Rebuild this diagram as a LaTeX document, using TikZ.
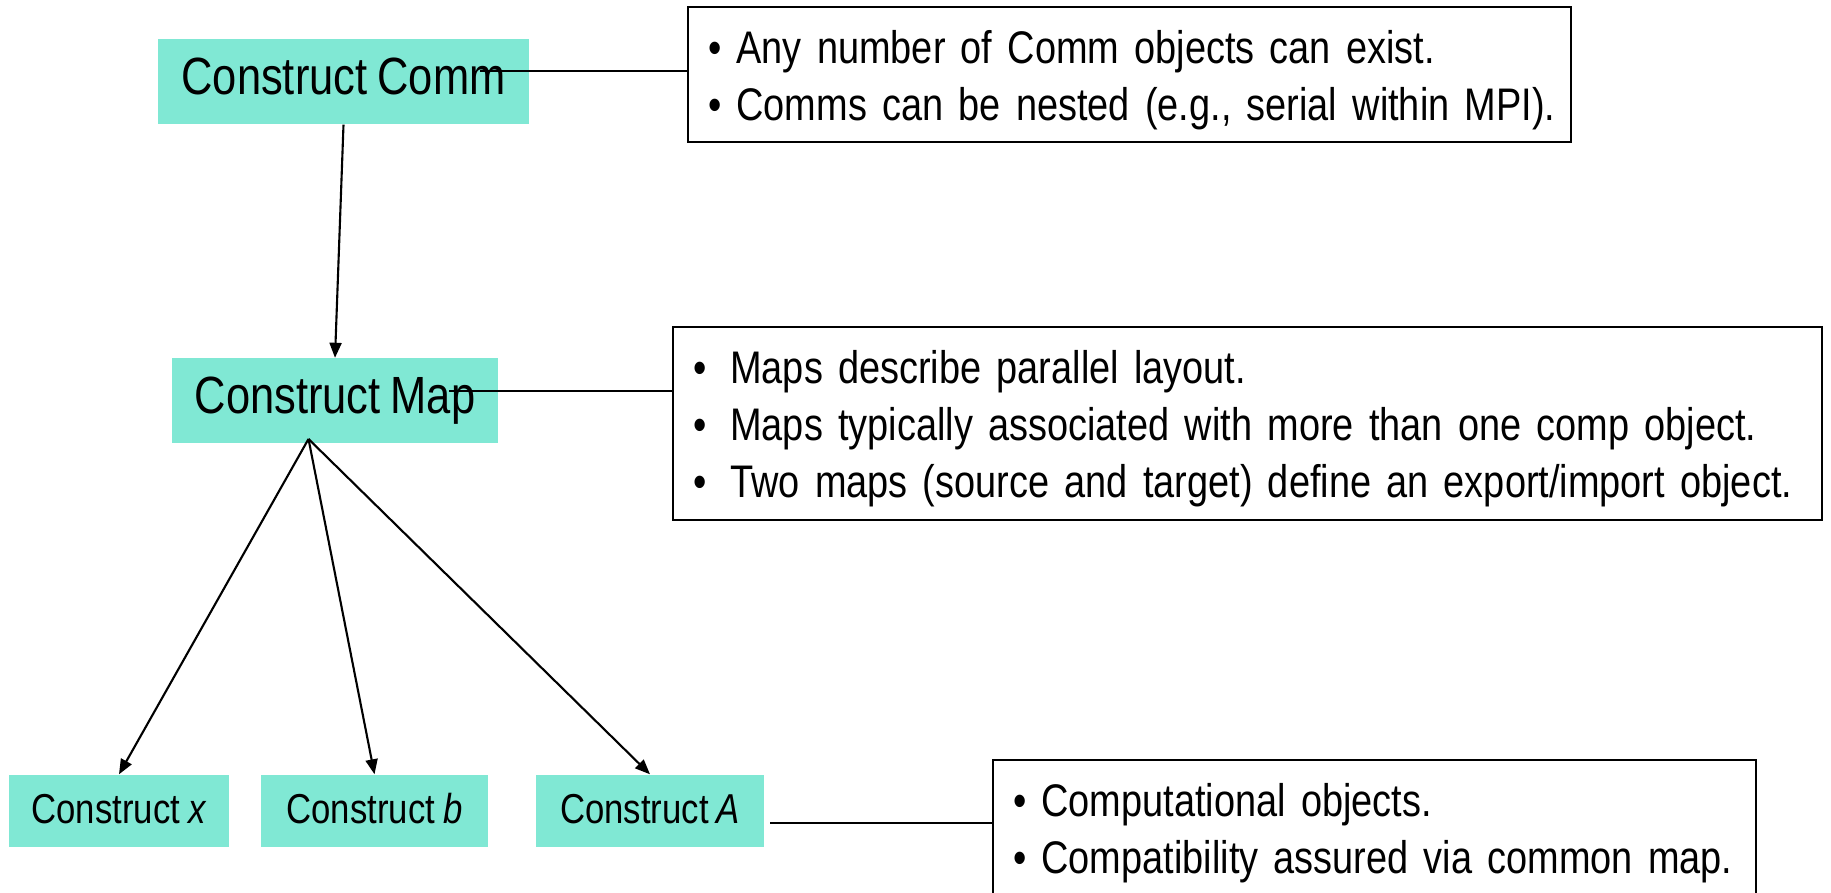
\documentclass[tikz,border=0pt]{standalone}
\usepackage{fontspec}
\setmainfont{Liberation Sans}[FakeStretch=0.83, WordSpace=0.83]
\usetikzlibrary{arrows.meta}

\definecolor{boxteal}{RGB}{128,232,212}

\begin{document}
\begin{tikzpicture}[
  construct/.style={fill=boxteal, inner sep=0pt, text height=0.72em, text depth=0pt},
  bigbox/.style={construct, font=\fontsize{14.9}{17}\selectfont, minimum height=0.85cm},
  smallbox/.style={construct, font=\fontsize{11.9}{14}\selectfont, minimum height=0.72cm},
  notebox/.style={draw, line width=0.8pt, align=left, inner xsep=0.2cm, inner ysep=0pt,
    font=\fontsize{13.0}{16.2}\selectfont, execute at begin node={\rule{0pt}{12.5pt}}},
  link/.style={line width=0.6pt},
  flow/.style={link, -{Triangle[length=1.5mm,width=1.2mm]}}]
  \def\item#1{\mbox{\textbullet{} #1}}
  \def\wideitem#1{\mbox{\textbullet\hspace{2.4mm}#1}}

  \useasboundingbox (0,0) rectangle (18.31,-8.93);

  % construct boxes
  \node[bigbox, minimum width=3.71cm] (comm) at (3.435,-0.815) {Construct Comm};
  \node[bigbox, minimum width=3.26cm] (map) at (3.35,-4.01) {Construct Map};
  \node[smallbox, minimum width=2.20cm] (cx) at (1.19,-8.11) {Construct \textit{x}};
  \node[smallbox, minimum width=2.27cm] (cb) at (3.745,-8.11) {Construct \textit{b}};
  \node[smallbox, minimum width=2.28cm] (cA) at (6.50,-8.11) {Construct \textit{A}};

  % notes
  \node[notebox, text width=8.43cm, minimum height=1.35cm] (note1) at (11.295,-0.745)
    {\item{Any number of Comm objects can exist.}\\
     \item{Comms can be nested (e.g., serial within MPI).}};
  \node[notebox, text width=11.09cm, minimum height=1.93cm] (note2) at (12.475,-4.235)
    {\wideitem{Maps describe parallel layout.}\\
     \wideitem{Maps typically associated with more than one comp object.}\\
     \wideitem{Two maps (source and target) define an export/import object.}};
  \node[notebox, text width=7.23cm, minimum height=1.36cm] (note3) at (13.745,-8.28)
    {\item{Computational objects.}\\
     \item{Compatibility assured via common map.}};

  % leader lines to the notes
  \coordinate (commtap) at (4.80,-0.707);
  \coordinate (maptap) at (4.49,-3.907);
  \coordinate (Atap) at (7.70,-8.23);
  \draw[link] (commtap) -- (commtap -| note1.west);
  \draw[link] (maptap) -- (maptap -| note2.west);
  \draw[link] (Atap) -- (Atap -| note3.west);

  % arrows
  \draw[flow] (comm.south) -- (map.north);
  \coordinate (mapfoot) at (3.085,-4.39);
  \foreach \target in {cx,cb,cA}
    \draw[flow] (mapfoot) -- (\target.north);
\end{tikzpicture}
\end{document}
